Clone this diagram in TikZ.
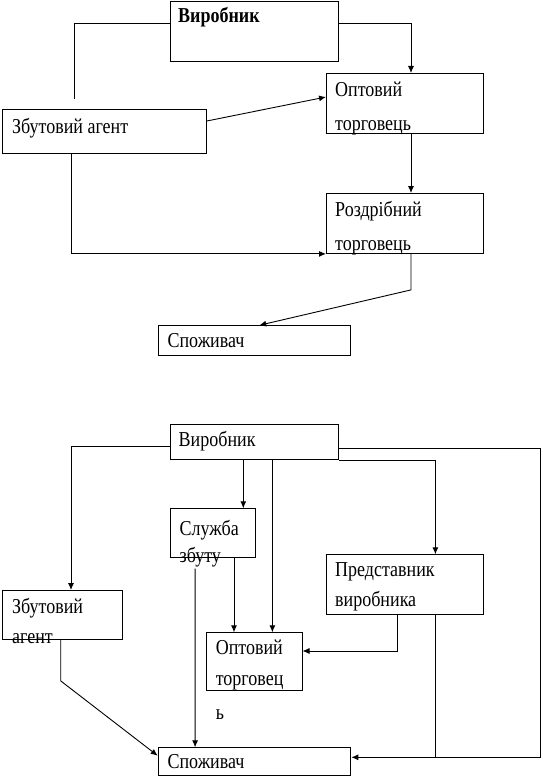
\documentclass[tikz,border=0pt]{standalone}
\usepackage{fontspec}
\setmainfont{Liberation Serif}
\usetikzlibrary{calc,arrows.meta}
\newcommand{\vtxt}[1]{\scalebox{1}[1.18]{#1}}
\begin{document}
\begin{tikzpicture}[x=1pt,y=-1pt,
  box/.style={draw,line width=0.9pt,inner sep=0pt,anchor=north west},
  lbl/.style={anchor=base west,inner sep=0pt,font=\fontsize{18}{20}\selectfont},
  line/.style={line width=0.9pt},
  arr/.style={line width=0.9pt,-{Latex[length=7pt,width=6pt]}}]
\useasboundingbox (0,0) rectangle (542,778);
% ---------- top diagram ----------
\node[box,minimum width=168pt,minimum height=60pt] (v1) at (170,1) {};
\node[box,minimum width=157pt,minimum height=60pt] (opt1) at (326,73) {};
\node[box,minimum width=204pt,minimum height=44pt] (zb1) at (2,109) {};
\node[box,minimum width=157pt,minimum height=60pt] (rozd) at (326,193) {};
\node[box,minimum width=192.7pt,minimum height=30pt] (sp1) at (157.7,325.3) {};
\node[lbl] (tv1) at (178,23) {\vtxt{\bfseries Виробник}};
\node[lbl] (to1a) at (335,96.7) {\vtxt{Оптовий}};
\node[lbl] (to1b) at (335,130.5) {\vtxt{торговець}};
\node[lbl] (tz1) at (12,134) {\vtxt{Збутовий агент}};
\node[lbl] (tr1a) at (335,216.5) {\vtxt{Роздрібний}};
\node[lbl] (tr1b) at (335,250) {\vtxt{торговець}};
\node[lbl] (ts1) at (167.4,347.7) {\vtxt{Споживач}};
\coordinate (e1) at (74.5,99);
\draw[line] ($(v1.north west)+(0,22)$) -| (e1);
\draw[arr] ($(v1.north east)+(0,22)$) -| ($(opt1.north west)+(85,0)$);
\draw[arr] ($(zb1.north east)+(0,12)$) -- ($(opt1.north west)+(0,24)$);
\draw[arr] ($(opt1.south west)+(85,0)$) -- ($(rozd.north west)+(85,0)$);
\draw[arr] ($(zb1.south west)+(69,0)$) |- (rozd.south west);
\draw[arr] ($(rozd.south west)+(85,0)$) -- ++(0,36) -- ($(sp1.north west)+(101.5,0)$);
% ---------- bottom diagram ----------
\node[box,minimum width=168pt,minimum height=35.3pt] (v2) at (170,424) {};
\node[box,minimum width=120pt,minimum height=49.3pt] (zb2) at (2,590) {};
\node[box,minimum width=84.8pt,minimum height=48.4pt] (sl) at (170,508.3) {};
\node[box,minimum width=95.4pt,minimum height=57.7pt] (opt2) at (206.2,632.3) {};
\node[box,minimum width=157pt,minimum height=59.7pt] (pr) at (326,554.3) {};
\node[box,minimum width=192.7pt,minimum height=27.7pt] (sp2) at (157.7,747.3) {};
\node[lbl] (tv2) at (178.5,446) {\vtxt{Виробник}};
\node[lbl] (tz2a) at (12,613.3) {\vtxt{Збутовий}};
\node[lbl] (tz2b) at (12,643.3) {\vtxt{агент}};
\node[lbl] (tsla) at (179.5,535) {\vtxt{Служба}};
\node[lbl] (tslb) at (179.5,562.7) {\vtxt{збуту}};
\node[lbl] (to2a) at (215.6,654) {\vtxt{Оптовий}};
\node[lbl] (to2b) at (215.6,685) {\vtxt{торговец}};
\node[lbl] (to2c) at (215.6,719) {\vtxt{ь}};
\node[lbl] (tpra) at (335,576.7) {\vtxt{Представник}};
\node[lbl] (tprb) at (335,606.7) {\vtxt{виробника}};
\node[lbl] (ts2) at (167.4,768.3) {\vtxt{Споживач}};
\coordinate (rc) at (540.5,757.3);
\coordinate (pl) at (0,651);
\draw[arr] ($(v2.north west)+(0,22.7)$) -| ($(zb2.north west)+(69,0)$);
\draw[arr] ($(v2.south west)+(73.3,0)$) -- ($(sl.north west)+(73.3,0)$);
\draw[arr] ($(v2.south west)+(102.4,0)$) -- ($(opt2.north west)+(66.2,0)$);
\draw[arr] ($(v2.north east)+(0,24.3)$) -| (rc) -- (sp2.east |- rc);
\draw[arr] (v2.south east) -| ($(pr.north west)+(109.4,0)$);
\draw[arr] ($(pr.south west)+(71.6,0)$) |- (opt2.east |- pl);
\draw[line] ($(pr.south west)+(109.4,0)$) -- ++(0,143.3);
\draw[arr] ($(sl.south west)+(64,0)$) -- ($(opt2.north west)+(27.8,0)$);
\draw[arr] ($(sl.south west)+(25.1,11)$) -- ($(sp2.north west)+(37.4,0)$);
\draw[arr] ($(zb2.south west)+(58.7,0)$) -- ++(0,40.7) -- ($(sp2.north west)+(0,8.4)$);
\end{tikzpicture}
\end{document}
